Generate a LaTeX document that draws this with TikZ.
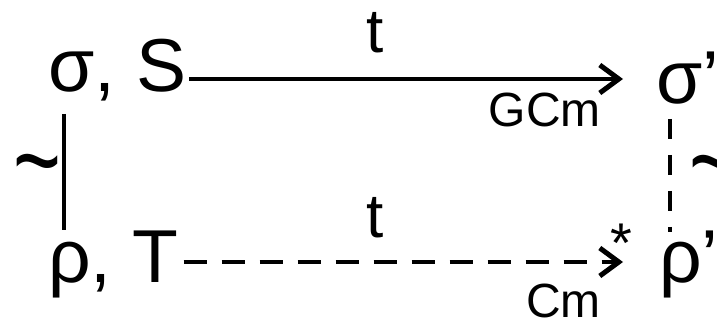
\documentclass[tikz,border=0pt]{standalone}
\usepackage{fontspec}
\setmainfont{Liberation Sans}
\usetikzlibrary{arrows.meta}
\begin{document}
\begin{tikzpicture}[x=1pt,y=-1pt,
  big/.style={inner sep=0pt, font=\fontsize{75}{80}\selectfont},
  lab/.style={inner sep=0pt, font=\fontsize{62}{70}\selectfont},
  small/.style={inner sep=0pt, font=\fontsize{48}{54}\selectfont},
  staro/.style={inner sep=0pt, font=\fontsize{56}{60}\selectfont},
  tld/.style={inner sep=0pt, font=\fontsize{82}{90}\selectfont},
  conn/.style={line width=4.5pt},
  arr/.style={conn, -{Straight Barb[length=19pt,width=28pt,line width=5pt]}},
  dashh/.style={dash pattern=on 23pt off 15pt},
  dashv/.style={dash pattern=on 20pt off 16pt}]
\fill[white] (0,0) rectangle (717,320);
\useasboundingbox (0,0) rectangle (717,320);
% main nodes
\node[big, anchor=base west] (A) at (48,92) {σ, S};
\node[big, anchor=base west] (B) at (656,104) {σ’};
\node[big, anchor=base west] (C) at (48,283) {ρ, T};
\node[big, anchor=base west] (D) at (659,283) {ρ’};
% level coordinates
\coordinate (ytop) at (0,79);
\coordinate (ybot) at (0,262);
\coordinate (xl) at (64,0);
\coordinate (xr) at (670,0);
% horizontal connectors
\draw[arr, shorten <=3pt, shorten >=33pt] (A.east |- ytop) -- (B.west |- ytop);
\draw[arr, dashh, shorten <=5pt, shorten >=36pt] (C.east |- ybot) -- (D.west |- ybot);
% vertical connectors
\draw[conn, shorten <=12pt, shorten >=1pt] (xl |- A.south) -- (xl |- C.north);
\draw[conn, dashv, shorten <=14pt, shorten >=-1pt] (xr |- B.south) -- (xr |- D.north);
% labels
\node[lab, anchor=base] (t1) at (375,53) {t};
\node[small, anchor=base east] (g1) at (601,127) {GCm};
\node[lab, anchor=base] (t2) at (375,238) {t};
\node[small, anchor=base east] (c1) at (601,317) {Cm};
\node[staro, anchor=base] (st) at (621,262) {*};
\node[tld, anchor=base] (tl) at (37,200) {\scalebox{1}[1.4]{\textasciitilde}};
\node[tld, anchor=base] (tr) at (713,201) {\scalebox{1}[1.4]{\textasciitilde}};
\end{tikzpicture}
\end{document}
